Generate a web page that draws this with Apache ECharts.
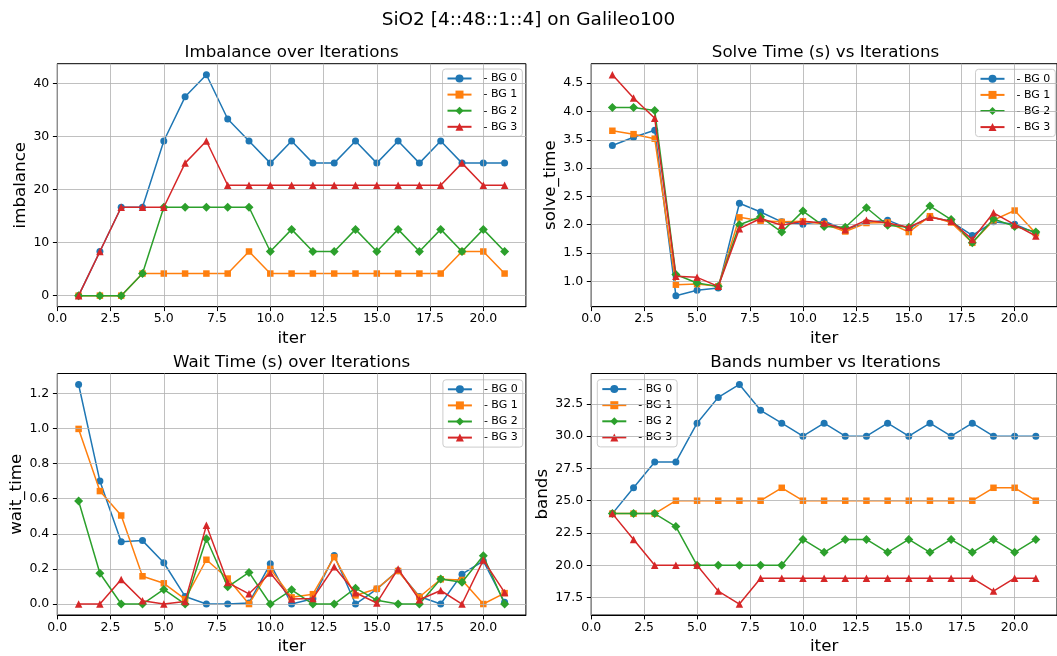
<!DOCTYPE html>
<html>
<head>
<meta charset="utf-8">
<title>SiO2 [4::48::1::4] on Galileo100</title>
<script src="https://cdn.jsdelivr.net/npm/echarts@6/dist/echarts.min.js"></script>
<style>
  html, body { margin: 0; padding: 0; background: #fff; }
  #chart { width: 1057px; height: 656px; }
</style>
</head>
<body>
<div id="chart"></div>
<script>
// Iterations 1..21
const iters = [1,2,3,4,5,6,7,8,9,10,11,12,13,14,15,16,17,18,19,20,21];
const bgNames = ['- BG 0', '- BG 1', '- BG 2', '- BG 3'];

// Imbalance (%)
const imbalanceBG0 = [0,8.33,16.67,16.67,29.17,37.5,41.67,33.33,29.17,25,29.17,25,25,29.17,25,29.17,25,29.17,25,25,25];
const imbalanceBG1 = [0,0,0,4.17,4.17,4.17,4.17,4.17,8.33,4.17,4.17,4.17,4.17,4.17,4.17,4.17,4.17,4.17,8.33,8.33,4.17];
const imbalanceBG2 = [0,0,0,4.17,16.67,16.67,16.67,16.67,16.67,8.33,12.5,8.33,8.33,12.5,8.33,12.5,8.33,12.5,8.33,12.5,8.33];
const imbalanceBG3 = [0,8.33,16.67,16.67,16.67,25,29.17,20.83,20.83,20.83,20.83,20.83,20.83,20.83,20.83,20.83,20.83,20.83,25,20.83,20.83];

// Solve time (s)
const solveBG0 = [3.40,3.545,3.67,0.746,0.84,0.88,2.38,2.225,2.05,2.01,2.06,1.91,2.04,2.08,1.93,2.14,2.055,1.81,2.05,2.01,1.85];
const solveBG1 = [3.66,3.60,3.52,0.94,0.95,0.91,2.13,2.07,2.05,2.06,2.01,1.88,2.03,2.04,1.87,2.15,2.04,1.68,2.08,2.25,1.85];
const solveBG2 = [4.07,4.07,4.02,1.12,0.97,0.91,2.0,2.14,1.87,2.24,1.97,1.955,2.30,1.99,1.955,2.33,2.09,1.68,2.10,1.97,1.87];
const solveBG3 = [4.65,4.24,3.88,1.09,1.07,0.91,1.93,2.11,1.99,2.06,2.03,1.91,2.08,2.03,1.955,2.13,2.06,1.74,2.21,2.0,1.80];

// Wait time (s)
const waitBG0 = [1.25,0.70,0.354,0.361,0.235,0.043,0,0,0.006,0.229,0,0.03,0.276,0,0.085,0.19,0.043,0,0.17,0.245,0.01];
const waitBG1 = [0.997,0.643,0.504,0.158,0.118,0.028,0.252,0.145,0,0.2,0.038,0.056,0.267,0.049,0.087,0.188,0.04,0.141,0.137,0,0.062];
const waitBG2 = [0.587,0.175,0,0,0.083,0,0.372,0.098,0.18,0,0.081,0,0,0.09,0.022,0,0,0.143,0.124,0.275,0];
const waitBG3 = [0,0,0.139,0.019,0,0.015,0.448,0.122,0.058,0.177,0.028,0.032,0.212,0.064,0.006,0.2,0.024,0.077,0,0.25,0.066];

// Bands per group
const bandsBG0 = [24,26,28,28,31,33,34,32,31,30,31,30,30,31,30,31,30,31,30,30,30];
const bandsBG1 = [24,24,24,25,25,25,25,25,26,25,25,25,25,25,25,25,25,25,26,26,25];
const bandsBG2 = [24,24,24,23,20,20,20,20,20,22,21,22,22,21,22,21,22,21,22,21,22];
const bandsBG3 = [24,22,20,20,20,18,17,19,19,19,19,19,19,19,19,19,19,19,18,19,19];

// Tick values
const iterTicks = [0,2.5,5,7.5,10,12.5,15,17.5,20];
const imbalanceTicks = [0,10,20,30,40];
const solveTicks = [1.0,1.5,2.0,2.5,3.0,3.5,4.0,4.5];
const waitTicks = [0,0.2,0.4,0.6,0.8,1.0,1.2];
const bandsTicks = [17.5,20,22.5,25,27.5,30,32.5];

const FONT = '"DejaVu Sans", "Liberation Sans", sans-serif';
const COLORS = ['#1f77b4', '#ff7f0e', '#2ca02c', '#d62728'];
const SYMBOLS = ['circle', 'rect', 'diamond', 'triangle'];
const SYMBOL_SIZES = [7, 6.5, 9, 7.5];

// 5% padding around the data range, like the autoscaled axes
function padded(arrays) {
  const all = [].concat(...arrays);
  const lo = Math.min(...all), hi = Math.max(...all);
  const m = (hi - lo) * 0.05;
  return [lo - m, hi + m];
}
const xExtent = padded([iters]);

const panels = [
  { title: 'Imbalance over Iterations', yName: 'imbalance', data: [imbalanceBG0, imbalanceBG1, imbalanceBG2, imbalanceBG3],
    ticks: imbalanceTicks, fmt: v => String(Math.round(v)), nameGap: 27,
    grid: { left: 57.3, top: 63.7, width: 468.6, height: 243 }, legend: [442.5, 69], titleY: 52.8 },
  { title: 'Solve Time (s) vs Iterations', yName: 'solve_time', data: [solveBG0, solveBG1, solveBG2, solveBG3],
    ticks: solveTicks, fmt: v => v.toFixed(1), nameGap: 31,
    grid: { left: 591.2, top: 63.7, width: 468.6, height: 243 }, legend: [975.5, 69.3], titleY: 52.8 },
  { title: 'Wait Time (s) over Iterations', yName: 'wait_time', data: [waitBG0, waitBG1, waitBG2, waitBG3],
    ticks: waitTicks, fmt: v => v.toFixed(1), nameGap: 30.5,
    grid: { left: 57.3, top: 373.5, width: 468.6, height: 243.5 }, legend: [442.9, 379.8], titleY: 362.2 },
  { title: 'Bands number vs Iterations', yName: 'bands', data: [bandsBG0, bandsBG1, bandsBG2, bandsBG3],
    ticks: bandsTicks, fmt: v => v.toFixed(1), nameGap: 39.5,
    grid: { left: 591.2, top: 373.5, width: 468.6, height: 243.5 }, legend: [597.3, 379.6], titleY: 362.2 }
];

const grids = [], xAxes = [], yAxes = [], series = [], legends = [];
const graphics = [{
  type: 'text', x: 528.5, y: 20.3,
  style: { text: 'SiO2 [4::48::1::4] on Galileo100', font: '18.5px ' + FONT, fill: '#000',
           textAlign: 'center', textVerticalAlign: 'middle', align: 'center', verticalAlign: 'middle' }
}];

panels.forEach((p, i) => {
  grids.push(Object.assign({ show: true, borderColor: '#000', borderWidth: 1, backgroundColor: 'transparent' }, p.grid));
  const yExtent = padded(p.data);

  xAxes.push({
    type: 'value', gridIndex: i, min: xExtent[0], max: xExtent[1],
    name: 'iter', nameLocation: 'middle', nameGap: 23,
    nameTextStyle: { fontFamily: FONT, fontSize: 16.7, color: '#000' },
    axisLine: { show: true, onZero: false, lineStyle: { color: '#000', width: 1 } },
    axisTick: { show: true, length: 4.4, customValues: iterTicks, lineStyle: { color: '#000', width: 1 } },
    axisLabel: { customValues: iterTicks, formatter: v => v.toFixed(1), margin: 6,
                 fontFamily: FONT, fontSize: 12.5, color: '#000' },
    splitLine: { show: false }
  });
  yAxes.push({
    type: 'value', gridIndex: i, min: yExtent[0], max: yExtent[1],
    name: p.yName, nameLocation: 'middle', nameGap: p.nameGap,
    nameTextStyle: { fontFamily: FONT, fontSize: 16.7, color: '#000' },
    axisLine: { show: true, onZero: false, lineStyle: { color: '#000', width: 1 } },
    axisTick: { show: true, length: 4.4, customValues: p.ticks, lineStyle: { color: '#000', width: 1 } },
    axisLabel: { customValues: p.ticks, formatter: p.fmt, margin: 8,
                 fontFamily: FONT, fontSize: 12.5, color: '#000' },
    splitLine: { show: false }
  });

  // background grid lines at tick positions
  series.push({
    type: 'line', xAxisIndex: i, yAxisIndex: i, data: [[iters[0], p.data[0][0]]],
    showSymbol: false, lineStyle: { opacity: 0 }, silent: true, z: 1,
    markLine: {
      silent: true, symbol: 'none', animation: false,
      label: { show: false },
      lineStyle: { color: '#b0b0b0', width: 1, type: 'solid', opacity: 0.8 },
      emphasis: { disabled: true },
      data: iterTicks.map(v => ({ xAxis: v })).concat(p.ticks.map(v => ({ yAxis: v })))
    }
  });

  p.data.forEach((vals, k) => {
    series.push({
      name: bgNames[k], type: 'line', xAxisIndex: i, yAxisIndex: i, z: 3 + k,
      data: iters.map((it, j) => [it, vals[j]]),
      symbol: SYMBOLS[k], symbolSize: SYMBOL_SIZES[k], showSymbol: true,
      lineStyle: { color: COLORS[k], width: 1.5 },
      itemStyle: { color: COLORS[k], borderWidth: 0 },
      emphasis: { disabled: true }
    });
  });

  legends.push({
    orient: 'vertical', left: p.legend[0], top: p.legend[1], data: bgNames,
    itemWidth: 24, itemHeight: 10, itemGap: 4.1, padding: [3.5, 5, 3.5, 4],
    backgroundColor: 'rgba(255,255,255,0.8)', borderColor: '#cccccc', borderWidth: 1, borderRadius: 3,
    selectedMode: false,
    textStyle: { fontFamily: FONT, fontSize: 11, color: '#000', lineHeight: 12, padding: [0, 0, 0, 7] }
  });

  graphics.push({
    type: 'text', x: p.grid.left + p.grid.width / 2, y: p.titleY,
    style: { text: p.title, font: '16.7px ' + FONT, fill: '#000',
             textAlign: 'center', textVerticalAlign: 'middle', align: 'center', verticalAlign: 'middle' }
  });
});

const chart = echarts.init(document.getElementById('chart'), null, { renderer: 'canvas' });
chart.setOption({
  animation: false,
  backgroundColor: '#fff',
  grid: grids, xAxis: xAxes, yAxis: yAxes,
  legend: legends,
  series: series,
  graphic: graphics
});
</script>
</body>
</html>
